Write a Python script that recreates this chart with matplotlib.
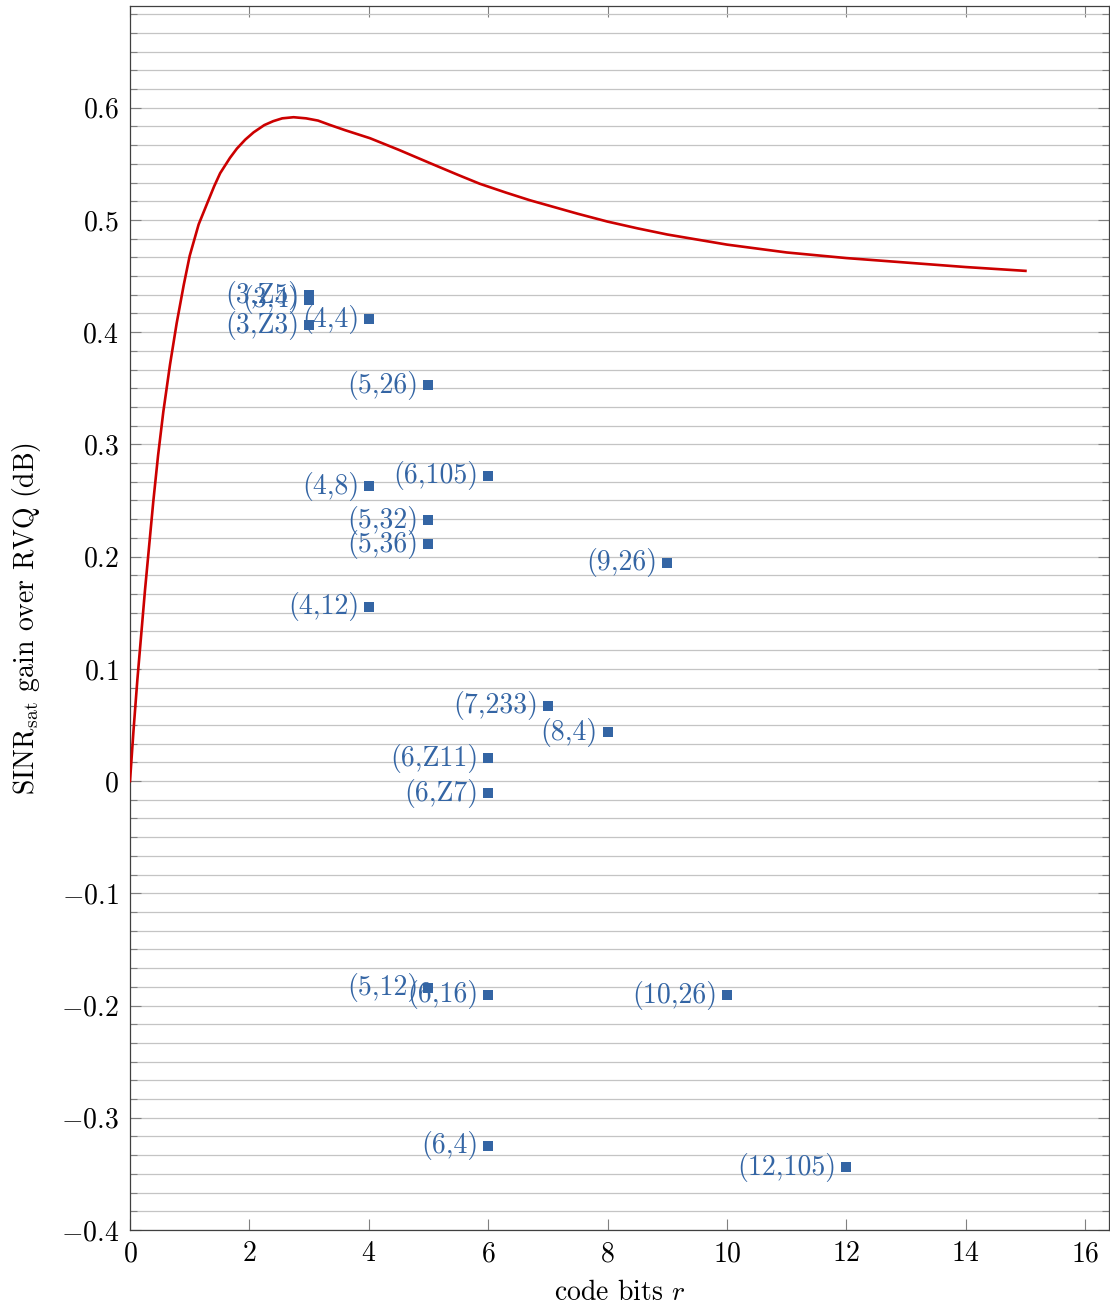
import matplotlib
matplotlib.use("Agg")
import matplotlib.pyplot as plt
from matplotlib.ticker import FixedLocator, FuncFormatter

plt.rcParams['font.family'] = ['cmr10', 'DejaVu Serif']
plt.rcParams['mathtext.fontset'] = 'cm'
plt.rcParams['axes.unicode_minus'] = True

# ---- data ----
curve_x = [0, 0.06, 0.123, 0.251, 0.39, 0.47, 0.558, 0.67, 0.782, 0.9, 1.0, 1.15, 1.31, 1.41, 1.51,
           1.675, 1.79, 1.93, 2.07, 2.25, 2.4, 2.55, 2.74, 2.95, 3.15, 3.35, 3.6, 4.02, 4.5,
           5.03, 5.5, 5.86, 6.3, 6.70, 7.5, 8.0, 8.5, 9.0, 10.0, 11.0, 12.0, 13.0, 14.0, 15.0]
curve_y = [0, 0.046, 0.090, 0.170, 0.249, 0.290, 0.329, 0.371, 0.408, 0.442, 0.468, 0.496, 0.517,
           0.530, 0.5416, 0.5553, 0.5635, 0.5715, 0.578, 0.5845, 0.588, 0.5905, 0.5915, 0.5905,
           0.5885, 0.5846, 0.580, 0.5728, 0.5625, 0.5505, 0.540, 0.5322, 0.5243, 0.5175, 0.5055,
           0.4985, 0.4925, 0.487, 0.478, 0.471, 0.466, 0.462, 0.458, 0.4546]

point_labels = ["(3,Z5)", "(3,4)", "(3,Z3)", "(4,4)", "(5,26)", "(6,105)", "(4,8)", "(5,32)",
                "(5,36)", "(9,26)", "(4,12)", "(7,233)", "(8,4)", "(6,Z11)", "(6,Z7)",
                "(5,12)", "(6,16)", "(10,26)", "(6,4)", "(12,105)"]
point_x = [3, 3, 3, 4, 5, 6, 4, 5, 5, 9, 4, 7, 8, 6, 6, 5, 6, 10, 6, 12]
point_y = [0.433, 0.429, 0.406, 0.4115, 0.3528, 0.2719, 0.2627, 0.2324, 0.2111, 0.1946, 0.1552,
           0.0671, 0.0433, 0.0203, -0.011, -0.1842, -0.1906, -0.1907, -0.3248, -0.344]

x_ticks = [0, 2, 4, 6, 8, 10, 12, 14, 16]
y_ticks = [-0.4, -0.3, -0.2, -0.1, 0, 0.1, 0.2, 0.3, 0.4, 0.5, 0.6]

# ---- figure ----
W, H = 1110, 1306
fig = plt.figure(figsize=(W / 100, H / 100), dpi=100)
ax = fig.add_axes([130 / W, 1 - 1230 / H, (1109 - 130) / W, (1230 - 6) / H])

red = '#cc0000'
blue = '#3465a4'

ax.plot(curve_x, curve_y, color=red, lw=1.9, zorder=3, solid_joinstyle='round')
ax.plot(point_x, point_y, linestyle='none', marker='s', markersize=7.8,
        color=blue, markeredgewidth=0, zorder=4)
for lab, px, py in zip(point_labels, point_x, point_y):
    ax.annotate(lab, (px, py), xytext=(-7, 0), textcoords='offset points',
                ha='right', va='center', fontsize=20, color=blue, zorder=5)

ax.set_xlim(0, 16.4)
ax.set_ylim(-0.4, 0.6906)

ax.xaxis.set_major_locator(FixedLocator(x_ticks))
ax.yaxis.set_major_locator(FixedLocator(y_ticks))
minor = []
for i in range(len(y_ticks) - 1):
    for k in range(1, 6):
        minor.append(y_ticks[i] + k * 0.1 / 6)
for k in range(1, 6):
    minor.append(0.6 + k * 0.1 / 6)
ax.yaxis.set_minor_locator(FixedLocator(minor))

def fmt(v, pos):
    s = f"{v:g}"
    if s == "-0":
        s = "0"
    return f"${s}$"

ax.xaxis.set_major_formatter(FuncFormatter(fmt))
ax.yaxis.set_major_formatter(FuncFormatter(fmt))

ax.tick_params(axis='both', which='major', direction='in', length=8, width=0.8,
               color='#808080', labelsize=20, top=True, right=True)
ax.tick_params(axis='both', which='minor', direction='in', length=5, width=0.8,
               color='#808080', top=True, right=True)
ax.tick_params(axis='y', which='major', pad=8)
ax.tick_params(axis='x', which='major', pad=8)

ax.grid(axis='y', which='both', color='#c4c4c4', lw=0.9, zorder=0)
ax.set_axisbelow(True)
for s in ax.spines.values():
    s.set_color('#404040')
    s.set_linewidth(0.9)

ax.set_xlabel(r"code bits $r$", fontsize=20, labelpad=9)
ax.set_ylabel(r"SINR$_{\mathrm{sat}}$ gain over RVQ (dB)", fontsize=20, labelpad=13)

fig.savefig("out.png", dpi=100)
